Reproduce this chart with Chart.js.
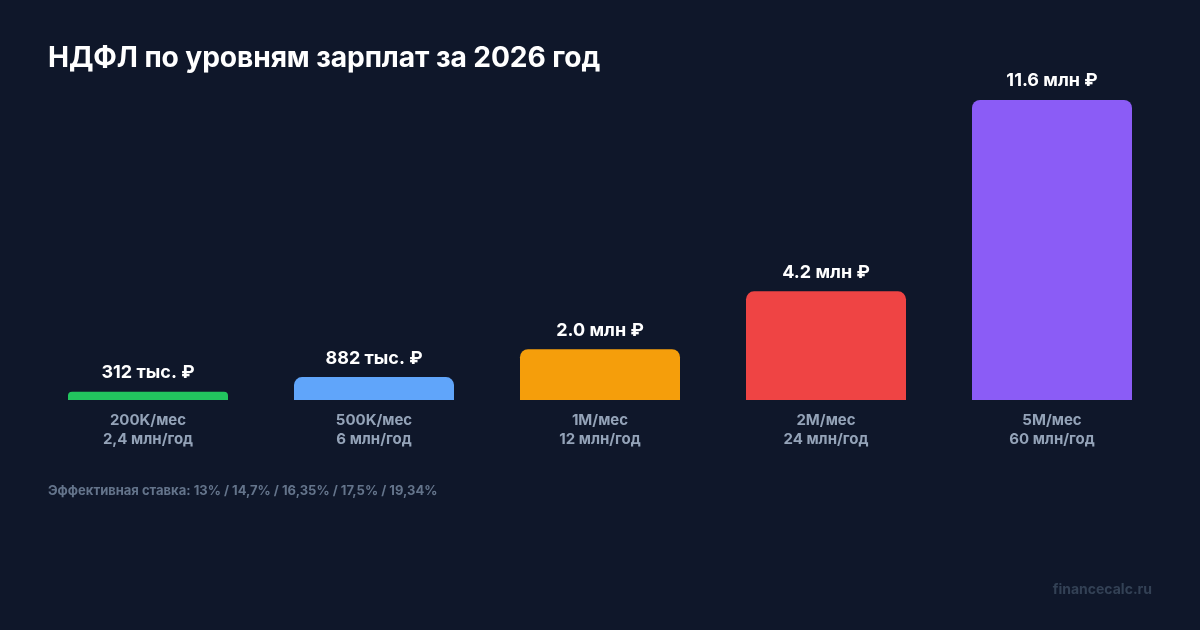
<!DOCTYPE html>
<html lang="ru">
<head>
<meta charset="utf-8">
<script src="https://cdn.jsdelivr.net/npm/chart.js@4/dist/chart.umd.min.js"></script>
<style>
  html, body { margin: 0; padding: 0; background: #0f172a; }
  #wrap { position: relative; width: 1200px; height: 630px; overflow: hidden; font-family: Inter, "Noto Sans", sans-serif; }
  #grafica { position: absolute; left: 0; top: 0; }
  #titulo { position: absolute; left: 48px; top: 40px; color: #ffffff; font-size: 28.2px; font-weight: 700; letter-spacing: -0.1px; }
  #nota { position: absolute; left: 48px; top: 482px; color: #64748b; font-size: 13px; font-weight: 700; }
  #marca { position: absolute; right: 48px; top: 580px; color: #334155; font-size: 14px; font-weight: 700; }
</style>
</head>
<body>
<div id="wrap">
  <canvas id="grafica" width="1200" height="630"></canvas>
  <div id="titulo">НДФЛ по уровням зарплат за 2026 год</div>
  <div id="nota">Эффективная ставка: 13% / 14,7% / 16,35% / 17,5% / 19,34%</div>
  <div id="marca">financecalc.ru</div>
</div>
<script>
const salariosMes = ["200K/мес", "500K/мес", "1M/мес", "2M/мес", "5M/мес"];
const salariosAnio = ["2,4 млн/год", "6 млн/год", "12 млн/год", "24 млн/год", "60 млн/год"];
const impuesto = [312000, 882000, 1962000, 4200000, 11604000];
const etiquetasImpuesto = ["312 тыс. ₽", "882 тыс. ₽", "2.0 млн ₽", "4.2 млн ₽", "11.6 млн ₽"];
const colores = ["#22c55e", "#60a5fa", "#f59e0b", "#ef4444", "#8b5cf6"];

// etiquetas encima de cada barra
const etiquetasBarras = {
  id: "etiquetasBarras",
  afterDatasetsDraw(chart) {
    const ctx = chart.ctx;
    const meta = chart.getDatasetMeta(0);
    ctx.save();
    ctx.fillStyle = "#ffffff";
    ctx.font = "700 18px Inter, 'Noto Sans', sans-serif";
    ctx.textAlign = "center";
    ctx.textBaseline = "middle";
    meta.data.forEach((barra, i) => {
      ctx.fillText(etiquetasImpuesto[i], barra.x, barra.y - 19);
    });
    ctx.restore();
  }
};

new Chart(document.getElementById("grafica"), {
  type: "bar",
  data: {
    labels: salariosMes.map((m, i) => [m, salariosAnio[i]]),
    datasets: [{
      data: impuesto,
      backgroundColor: colores,
      borderRadius: { topLeft: 8, topRight: 8, bottomLeft: 0, bottomRight: 0 },
      borderSkipped: false,
      barPercentage: 1,
      categoryPercentage: 0.708
    }]
  },
  options: {
    responsive: false,
    animation: false,
    layout: { padding: { left: 35, right: 35, top: 100, bottom: 170 } },
    plugins: { legend: { display: false }, tooltip: { enabled: false } },
    scales: {
      x: {
        grid: { display: false, drawTicks: false },
        border: { display: false },
        ticks: {
          color: "#94a3b8",
          padding: 11,
          font: { family: "Inter, 'Noto Sans', sans-serif", size: 15, weight: "700", lineHeight: 1.27 }
        }
      },
      y: {
        display: false,
        min: 0,
        max: 11604000
      }
    }
  },
  plugins: [etiquetasBarras]
});
</script>
</body>
</html>
